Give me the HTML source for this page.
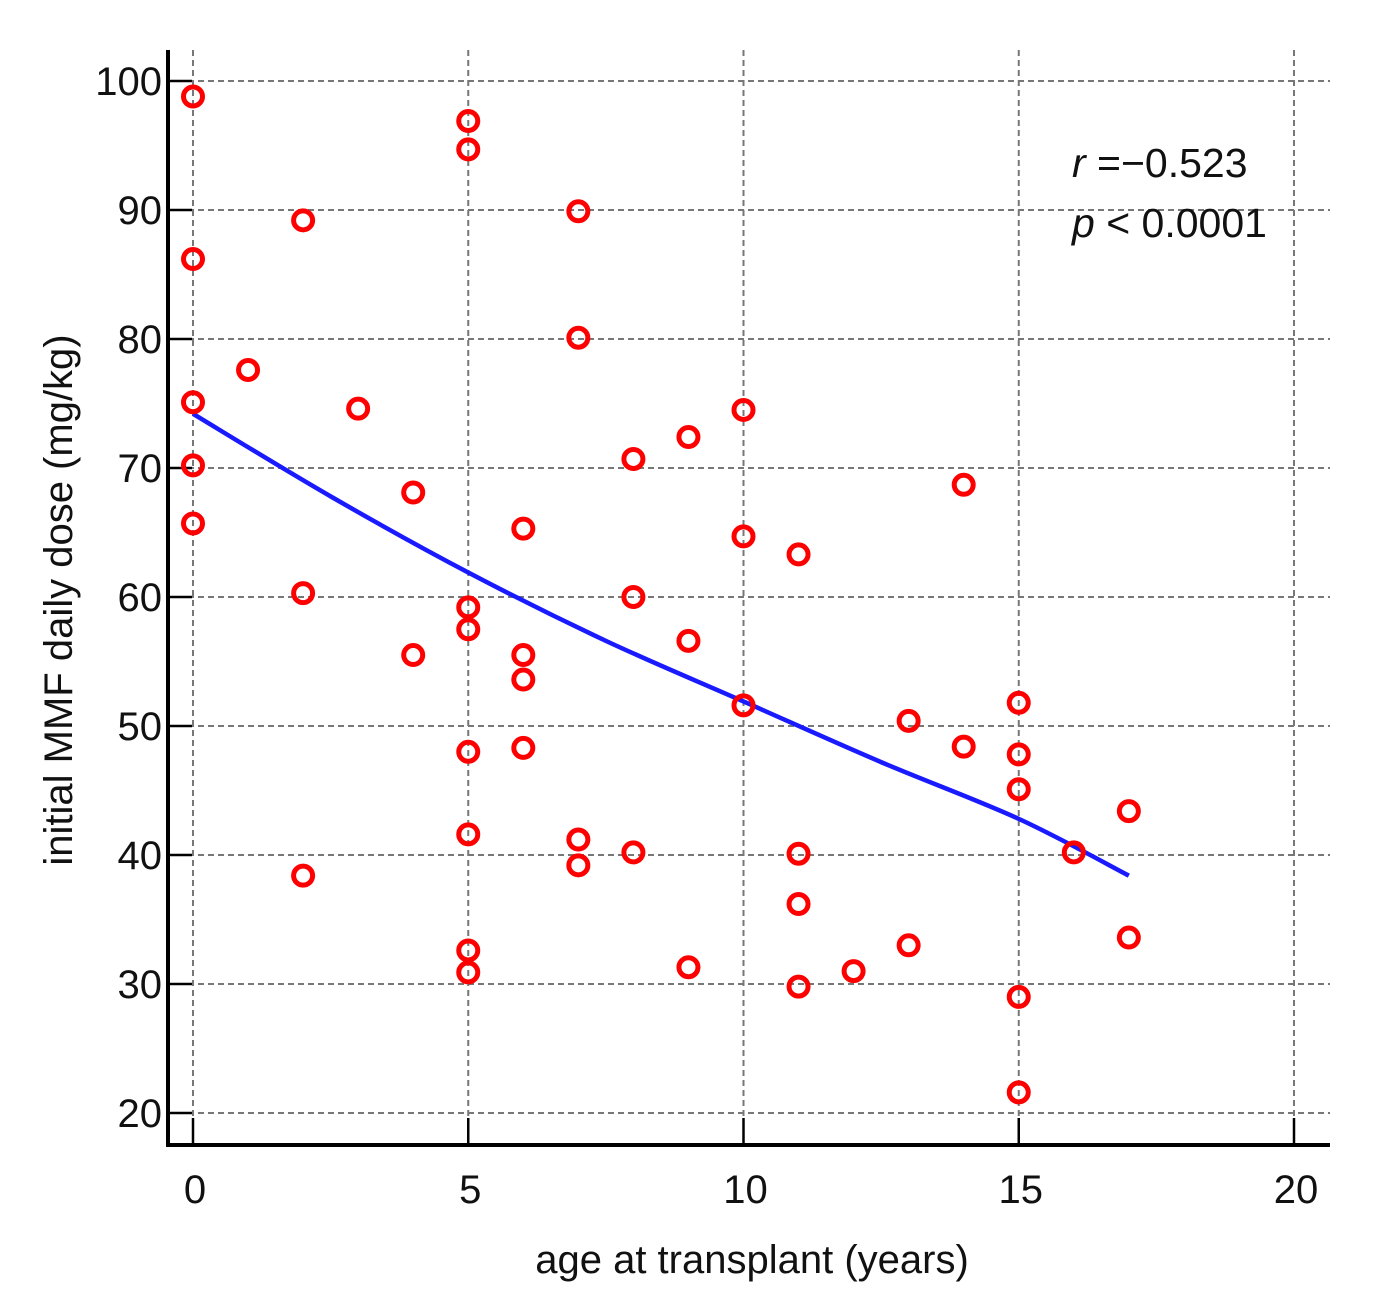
<!DOCTYPE html>
<html><head><meta charset="utf-8"><style>
html,body{margin:0;padding:0;background:#fff;}
svg{display:block;font-family:"Liberation Sans",sans-serif;}
</style></head><body>
<svg id="chart" width="1380" height="1306" viewBox="0 0 1380 1306" xmlns="http://www.w3.org/2000/svg">
<g id="grid"></g>
<g id="axes"></g>
<g id="fit"></g>
<g id="pts"></g>
<text x="752" y="1273" font-size="40" text-anchor="middle" fill="#111">age at transplant (years)</text>
<text transform="translate(72,600) rotate(-90)" font-size="40" text-anchor="middle" fill="#111">initial MMF daily dose (mg/kg)</text>
<text x="1072" y="177" font-size="41" fill="#111"><tspan font-style="italic">r</tspan> =−0.523</text>
<text x="1072" y="237" font-size="41" fill="#111"><tspan font-style="italic">p</tspan> &lt; 0.0001</text>
</svg>
<script>
const xTicks=[0,5,10,15,20];
const yTicks=[20,30,40,50,60,70,80,90,100];
const ageX=[0,0,0,0,0,1,2,2,2,3,4,4,5,5,5,5,5,5,5,5,6,6,6,6,7,7,7,7,8,8,8,9,9,9,10,10,10,11,11,11,11,12,13,13,14,14,15,15,15,15,15,16,17,17];
const doseY=[98.8,86.2,75.1,70.2,65.7,77.6,89.2,60.3,38.4,74.6,68.1,55.5,96.9,94.7,59.2,57.5,48,41.6,32.6,30.9,65.3,55.5,53.6,48.3,89.9,80.1,41.2,39.2,70.7,60,40.2,72.4,56.6,31.3,74.5,64.7,51.6,63.3,40.1,36.2,29.8,31,50.4,33,68.7,48.4,51.8,47.8,45.1,29,21.6,40.2,43.4,33.6];
const fitX=[0,2.5,5,7.5,10,12.5,15,17];
const fitY=[74.2,67.8,61.9,56.6,51.9,47.2,42.8,38.4];
const NS="http://www.w3.org/2000/svg";
function sx(v){return 193+v*55.05;}
function sy(v){return 81+(100-v)*12.9;}
function mk(tag,attrs,parent){const e=document.createElementNS(NS,tag);for(const k in attrs)e.setAttribute(k,attrs[k]);parent.appendChild(e);return e;}
const grid=document.getElementById('grid'),axes=document.getElementById('axes'),fit=document.getElementById('fit'),pts=document.getElementById('pts');
xTicks.forEach(t=>{
  const l=mk('line',{x1:sx(t),x2:sx(t),y1:50,y2:1145,stroke:'#777','stroke-width':2,'stroke-dasharray':'6,4'},grid);
  
  
  const tk=mk('line',{x1:sx(t),x2:sx(t),y1:1145,y2:1118,stroke:'#000','stroke-width':2.5},axes);
  
  
  const tx=mk('text',{x:sx(t)+2,y:1203,'font-size':40,'text-anchor':'middle',fill:'#111'},axes);
  tx.textContent=t;
  
  
});
yTicks.forEach(t=>{
  const l=mk('line',{x1:168,x2:1330,y1:sy(t),y2:sy(t),stroke:'#777','stroke-width':2,'stroke-dasharray':'6,4'},grid);
  
  
  const tk=mk('line',{x1:168,x2:192,y1:sy(t),y2:sy(t),stroke:'#000','stroke-width':2.5},axes);
  
  
  const tx=mk('text',{x:162,y:sy(t)+14,'font-size':40,'text-anchor':'end',fill:'#111'},axes);
  tx.textContent=t;
  
  
});
const ax=mk('path',{d:'M168 50 V1145 H1330',fill:'none',stroke:'#000','stroke-width':4},axes);


const P=fitX.map((x,i)=>[sx(x),sy(fitY[i])]);
let d='M'+P[0][0]+' '+P[0][1];
for(let i=0;i<P.length-1;i++){
  const p0=P[Math.max(0,i-1)],p1=P[i],p2=P[i+1],p3=P[Math.min(P.length-1,i+2)];
  const c1=[p1[0]+(p2[0]-p0[0])/6,p1[1]+(p2[1]-p0[1])/6];
  const c2=[p2[0]-(p3[0]-p1[0])/6,p2[1]-(p3[1]-p1[1])/6];
  d+=' C'+c1[0]+' '+c1[1]+' '+c2[0]+' '+c2[1]+' '+p2[0]+' '+p2[1];
}
const fl=mk('path',{d:d,fill:'none',stroke:'#1a1aff','stroke-width':4.5,'stroke-linejoin':'round'},fit);


ageX.forEach((x,i)=>{
  const c=mk('circle',{cx:sx(x),cy:sy(doseY[i]),r:9.5,fill:'none',stroke:'#ff0000','stroke-width':5},pts);
  
  
});
</script>
</body></html>
